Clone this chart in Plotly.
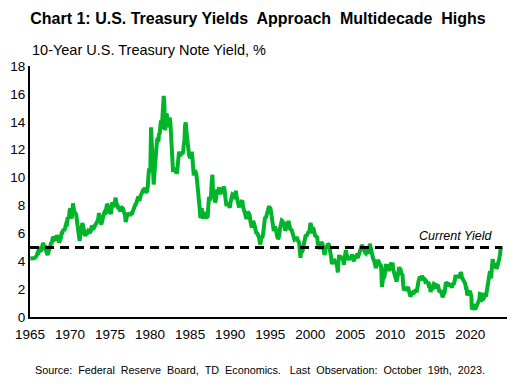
import pandas as pd
import plotly.graph_objects as go

# Monthly 10-year U.S. Treasury note yield (%), Jan 1965 onward
y1965_1969 = [
    4.19, 4.21, 4.21, 4.20, 4.21, 4.21, 4.20, 4.25, 4.29, 4.35, 4.45, 4.62,
    4.61, 4.83, 4.87, 4.75, 4.78, 4.81, 5.02, 5.32, 5.18, 5.01, 5.16, 4.84,
    4.58, 4.63, 4.45, 4.59, 4.85, 5.02, 5.16, 5.28, 5.30, 5.48, 5.75, 5.70,
    5.53, 5.56, 5.74, 5.64, 5.87, 5.72, 5.50, 5.35, 5.46, 5.58, 5.70, 6.03,
    6.04, 6.19, 6.30, 6.17, 6.32, 6.57, 6.72, 6.69, 7.16, 7.10, 7.14, 7.65,
]
y1970_1979 = [
    7.79, 7.24, 7.07, 7.39, 8.15, 7.84, 7.46, 7.53, 7.39, 7.33, 6.84, 6.39,
    6.24, 6.11, 5.45, 5.83, 6.39, 6.52, 6.73, 6.58, 6.14, 5.93, 5.81, 5.93,
    5.95, 6.08, 6.07, 6.19, 6.13, 6.11, 6.11, 6.21, 6.55, 6.48, 6.28, 6.36,
    6.46, 6.64, 6.71, 6.67, 6.85, 6.90, 7.13, 7.45, 7.09, 6.79, 6.73, 6.74,
    6.99, 6.96, 7.21, 7.51, 7.58, 7.54, 7.81, 8.10, 8.04, 7.90, 7.68, 7.43,
    7.50, 7.39, 7.73, 8.23, 8.06, 7.86, 8.06, 8.40, 8.55, 8.14, 8.05, 8.00,
    7.74, 7.79, 7.73, 7.56, 7.90, 7.86, 7.83, 7.77, 7.59, 7.41, 7.29, 6.80,
    7.21, 7.39, 7.46, 7.37, 7.46, 7.28, 7.33, 7.40, 7.34, 7.52, 7.58, 7.69,
    8.01, 8.03, 8.04, 8.15, 8.35, 8.46, 8.64, 8.41, 8.42, 8.64, 8.81, 9.01,
    9.10, 9.10, 9.12, 9.18, 9.25, 8.91, 8.95, 9.03, 9.33, 10.30, 10.65, 10.39,
]
y1980_1989 = [
    10.80, 13.60, 12.75, 11.20, 10.00, 9.50, 10.25, 11.10, 11.51, 11.75, 12.68, 12.84,
    12.57, 13.19, 13.12, 13.68, 14.10, 13.47, 14.28, 14.94, 15.85, 15.15, 13.39, 13.72,
    14.59, 14.43, 13.86, 13.87, 13.62, 14.30, 13.95, 13.06, 12.34, 10.91, 10.40, 10.54,
    10.46, 10.72, 10.51, 10.30, 10.38, 10.85, 11.38, 11.85, 11.65, 11.54, 11.69, 11.83,
    11.67, 11.84, 12.32, 12.63, 13.70, 13.95, 13.36, 12.72, 12.52, 12.16, 11.57, 11.50,
    11.38, 11.51, 11.86, 11.43, 10.85, 10.16, 10.31, 10.33, 10.37, 10.24, 9.78, 9.26,
    9.19, 8.70, 7.78, 7.10, 7.71, 7.80, 7.30, 7.05, 7.45, 7.43, 7.25, 7.11,
    7.08, 7.25, 7.25, 8.02, 8.61, 8.40, 8.45, 8.76, 9.70, 10.20, 8.86, 8.99,
    8.67, 8.21, 8.37, 8.72, 9.15, 8.92, 9.06, 9.30, 8.98, 8.80, 8.96, 9.11,
    9.09, 9.17, 9.36, 9.18, 8.86, 8.28, 7.95, 8.11, 8.19, 8.01, 7.87, 7.84,
]
y1990_1999 = [
    8.21, 8.47, 8.59, 8.79, 8.76, 8.48, 8.47, 8.75, 9.05, 8.72, 8.39, 8.08,
    8.09, 7.85, 8.11, 8.04, 8.07, 8.28, 8.27, 7.90, 7.65, 7.53, 7.42, 7.09,
    7.03, 7.34, 7.54, 7.48, 7.39, 7.26, 6.84, 6.59, 6.42, 6.59, 6.87, 6.77,
    6.60, 6.26, 5.98, 5.97, 6.04, 5.96, 5.81, 5.68, 5.36, 5.20, 5.72, 5.77,
    5.75, 5.97, 6.48, 6.97, 7.18, 7.10, 7.30, 7.24, 7.46, 7.74, 7.96, 7.81,
    7.78, 7.47, 7.20, 7.06, 6.63, 6.17, 6.28, 6.49, 6.20, 6.04, 5.93, 5.60,
    5.65, 5.81, 6.27, 6.51, 6.74, 6.91, 6.87, 6.64, 6.83, 6.53, 6.20, 6.30,
    6.58, 6.42, 6.69, 6.89, 6.71, 6.49, 6.22, 6.30, 6.21, 6.03, 5.88, 5.81,
    5.54, 5.57, 5.65, 5.64, 5.65, 5.50, 5.46, 5.34, 4.81, 4.25, 4.83, 4.65,
    4.72, 5.00, 5.23, 5.18, 5.54, 5.90, 5.79, 5.94, 5.92, 6.11, 6.03, 6.28,
]
y2000_2009 = [
    6.75, 6.52, 6.26, 5.99, 6.44, 6.10, 6.05, 5.83, 5.80, 5.74, 5.72, 5.24,
    5.16, 5.10, 4.89, 5.14, 5.39, 5.28, 5.24, 4.97, 4.73, 4.45, 4.65, 5.09,
    5.04, 4.91, 5.28, 5.21, 5.16, 4.93, 4.65, 4.26, 3.80, 3.94, 4.05, 4.03,
    4.05, 3.90, 3.81, 3.96, 3.57, 3.20, 3.98, 4.45, 4.27, 4.29, 4.30, 4.27,
    4.15, 4.08, 3.75, 4.35, 4.72, 4.80, 4.50, 4.28, 4.13, 4.10, 4.19, 4.23,
    4.22, 4.17, 4.50, 4.34, 4.14, 4.00, 4.18, 4.26, 4.20, 4.46, 4.54, 4.47,
    4.42, 4.57, 4.72, 4.99, 5.11, 5.15, 5.09, 4.88, 4.72, 4.73, 4.60, 4.56,
    4.76, 4.72, 4.56, 4.69, 4.75, 5.25, 5.00, 4.67, 4.52, 4.53, 4.15, 4.10,
    3.74, 3.74, 3.51, 3.68, 3.88, 4.10, 4.01, 3.89, 3.69, 3.81, 3.53, 2.15,
    2.52, 2.87, 2.82, 2.93, 3.29, 3.80, 3.56, 3.59, 3.40, 3.39, 3.40, 3.59,
]
y2010_2019 = [
    3.73, 3.69, 3.73, 3.90, 3.42, 3.20, 3.01, 2.70, 2.55, 2.54, 2.76, 3.29,
    3.39, 3.58, 3.41, 3.46, 3.17, 3.00, 3.00, 2.30, 1.90, 2.15, 2.01, 1.98,
    1.97, 1.97, 2.17, 2.05, 1.80, 1.62, 1.45, 1.68, 1.72, 1.75, 1.65, 1.72,
    1.91, 1.98, 1.96, 1.76, 1.93, 2.30, 2.58, 2.74, 2.90, 2.62, 2.72, 2.95,
    2.86, 2.71, 2.72, 2.71, 2.56, 2.60, 2.54, 2.42, 2.53, 2.30, 2.33, 2.21,
    1.80, 1.98, 2.04, 1.94, 2.20, 2.36, 2.32, 2.17, 2.17, 2.07, 2.26, 2.24,
    2.09, 1.78, 1.89, 1.81, 1.81, 1.64, 1.40, 1.56, 1.63, 1.76, 2.14, 2.49,
    2.43, 2.42, 2.48, 2.30, 2.30, 2.19, 2.32, 2.21, 2.10, 2.36, 2.35, 2.40,
    2.58, 2.86, 2.84, 2.87, 2.98, 2.91, 2.89, 2.89, 3.00, 3.20, 3.12, 2.83,
    2.71, 2.68, 2.57, 2.53, 2.40, 2.07, 2.06, 1.55, 1.70, 1.71, 1.81, 1.86,
]
y2020_2023 = [
    1.76, 1.50, 0.55, 0.62, 0.67, 0.73, 0.62, 0.55, 0.68, 0.79, 0.87, 0.93,
    1.08, 1.26, 1.65, 1.64, 1.62, 1.52, 1.25, 1.28, 1.37, 1.58, 1.56, 1.47,
    1.76, 1.93, 2.30, 2.85, 2.90, 3.30, 2.80, 2.90, 3.60, 4.15, 3.89, 3.62,
    3.53, 3.85, 3.50, 3.46, 3.60, 3.75, 3.90, 4.20, 4.45,
]
last_obs_date = "2023-10-19"
current_yield = 4.98

yields = y1965_1969 + y1970_1979 + y1980_1989 + y1990_1999 + y2000_2009 + y2010_2019 + y2020_2023
dates = list(pd.date_range("1965-01-01", periods=len(yields), freq="MS") + pd.Timedelta(days=14))
dates.append(pd.Timestamp(last_obs_date))
yields = yields + [current_yield]

title_text = "Chart 1: U.S. Treasury Yields  Approach  Multidecade  Highs"
subtitle_text = "10-Year U.S. Treasury Note Yield, %"
source_text = "Source:  Federal  Reserve  Board,  TD  Economics.   Last  Observation:  October  19th,  2023."
ref_label = "Current Yield"

x_start = "1965-01-01"
x_end = "2024-08-01"

FONT = "Liberation Sans, Arial, sans-serif"

fig = go.Figure()
fig.add_trace(go.Scatter(
    x=dates, y=yields, mode="lines",
    line=dict(color="#00B52A", width=4),
    hoverinfo="skip", showlegend=False,
))

fig.add_shape(
    type="line", xref="x", yref="y",
    x0=x_start, x1="2024-01-01", y0=current_yield, y1=current_yield,
    line=dict(color="black", width=3, dash="9px,6px"),
)

fig.add_annotation(
    text="<i>" + ref_label + "</i>", xref="paper", yref="y", x=0.975, y=current_yield + 0.85,
    xanchor="right", yanchor="middle", showarrow=False,
    font=dict(family=FONT, size=12.5, color="black"),
)
fig.add_annotation(
    text=subtitle_text, xref="paper", yref="paper", x=0.0, y=(317 - 50) / 251,
    xanchor="left", yanchor="middle", showarrow=False,
    font=dict(family=FONT, size=14.5, color="black"),
)
fig.add_annotation(
    text=source_text, xref="paper", yref="paper", x=(260 - 30) / 477, y=(317 - 370) / 251,
    xanchor="center", yanchor="middle", showarrow=False,
    font=dict(family=FONT, size=10.8, color="black"),
)

# page body has an 8px margin; layout compensates so the plot lands where the reference has it
fig.update_layout(
    width=516, height=384,
    margin=dict(l=22, r=17, t=58, b=75),
    paper_bgcolor="white", plot_bgcolor="white",
    font=dict(family=FONT, size=13, color="black"),
    title=dict(
        text="<b>" + title_text + "</b>", xref="container", yref="container",
        x=250 / 516, y=1 - 10 / 384, xanchor="center", yanchor="middle",
        font=dict(family=FONT, size=16, color="black"),
    ),
    xaxis=dict(
        type="date", range=[x_start, x_end], automargin=False,
        tick0="1965-01-01", dtick="M60", tickformat="%Y",
        showgrid=False, zeroline=False,
        showline=True, linecolor="black", linewidth=2,
        ticks="", ticklabelstandoff=4, tickfont=dict(family=FONT, size=13.5, color="black"),
    ),
    yaxis=dict(
        range=[0, 18], dtick=2, automargin=False,
        showgrid=False, zeroline=False,
        showline=True, linecolor="black", linewidth=2,
        ticks="", tickfont=dict(family=FONT, size=13.5, color="black"),
    ),
)

fig.write_html("out.html")
